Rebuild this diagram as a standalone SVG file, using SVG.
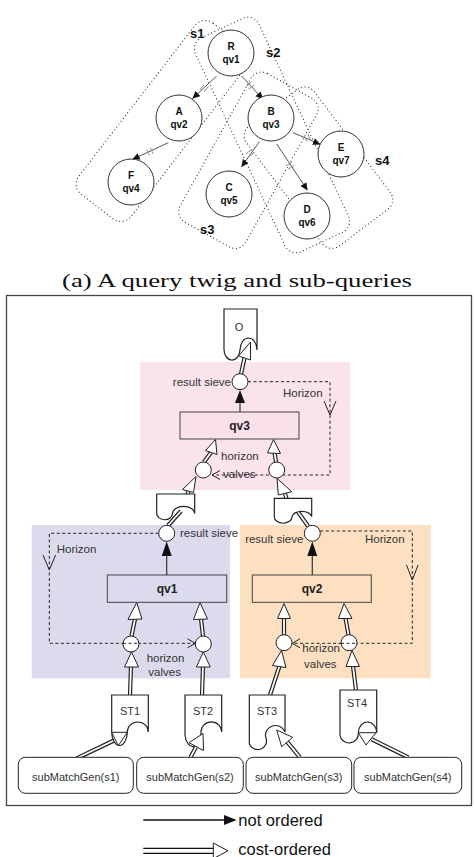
<svg xmlns="http://www.w3.org/2000/svg" width="474" height="857" viewBox="0 0 474 857">
<style>
.node{fill:#fff;stroke:#333;stroke-width:1}
.nl{font-family:"Liberation Sans",Arial,sans-serif;font-size:10px;font-weight:bold;fill:#111;text-anchor:middle}
.dot{fill:none;stroke:#222;stroke-width:1;stroke-dasharray:1 2.6}
.sl{font-family:"Liberation Sans",Arial,sans-serif;font-size:13px;font-weight:bold;fill:#111}
.edge{stroke:#555;stroke-width:1;fill:none;marker-end:url(#ah)}
.mk{stroke:#999;stroke-width:1}
.buf{fill:#fff;stroke:#222;stroke-width:1.2}
.circ{fill:#fff;stroke:#222;stroke-width:1}
.box{stroke:#444;stroke-width:1}
.dash{fill:none;stroke:#222;stroke-width:1;stroke-dasharray:3 2.5}
.chev{fill:none;stroke:#222;stroke-width:1}
.dlo{fill:none;stroke:#222;stroke-width:4.2}
.dli{fill:none;stroke:#fff;stroke-width:1.8}
.tri{fill:#fff;stroke:#222;stroke-width:1}
.ftri{fill:#111;stroke:none}
.sol{stroke:#333;stroke-width:1.2}
.t{font-family:"Liberation Sans",Arial,sans-serif;font-size:11.5px;fill:#333}
.tb{font-family:"Liberation Sans",Arial,sans-serif;font-size:12px;font-weight:bold;fill:#222;text-anchor:middle}
.tm{font-family:"Liberation Sans",Arial,sans-serif;font-size:11px;fill:#333;text-anchor:middle}
.lg{font-family:"Liberation Sans",Arial,sans-serif;font-size:16.5px;fill:#111}
.cap{font-family:"Liberation Serif","Times New Roman",serif;font-size:19px;fill:#111}
</style>
<defs>
<marker id="ah" markerWidth="8" markerHeight="8" refX="7" refY="4" orient="auto" markerUnits="userSpaceOnUse">
<path d="M0,0.5 L7.5,4 L0,7.5 Z" fill="#111"/>
</marker>
</defs>

<g id="subqueries">
<rect class="dot" x="-33" y="-108" width="66" height="216" rx="13" transform="translate(163,121) rotate(37.6)"/>
<rect class="dot" x="-35" y="-118" width="70" height="236" rx="12" transform="translate(272,135) rotate(-25)"/>
<rect class="dot" x="-37" y="-85" width="75" height="170" rx="12" transform="translate(248,160) rotate(29)"/>
<rect class="dot" x="-42" y="-75" width="85" height="150" rx="12" transform="translate(318,168) rotate(-37)"/>
<text class="sl" x="190" y="38">s1</text>
<text class="sl" x="266" y="57">s2</text>
<text class="sl" x="200" y="234">s3</text>
<text class="sl" x="375" y="165">s4</text>
</g>

<g id="twig-edges">
<line class="edge" x1="216.7" y1="76" x2="192.7" y2="98.3"/>
<line class="edge" x1="241.7" y1="76" x2="262.7" y2="99"/>
<line class="edge" x1="168.3" y1="142.7" x2="132.7" y2="159.3"/>
<line class="edge" x1="259.3" y1="141.7" x2="241.7" y2="166.7"/>
<line class="edge" x1="276.7" y1="144" x2="307.3" y2="190"/>
<line class="edge" x1="293.3" y1="132.7" x2="320" y2="144.3"/>
<path class="mk" d="M199.6,85.8 L206.4,84.8 M201.6,89.8 L208.4,88.8" transform="rotate(-40 205 87.3)"/>
<path class="mk" d="M246.6,83.7 L253.4,83.7 M246.6,87.7 L253.4,87.7" transform="rotate(-40 250 85.7)"/>
<path class="mk" d="M146.6,149.7 L153.4,149.7 M146.6,153.7 L153.4,153.7" transform="rotate(66 150 151.7)"/>
<path class="mk" d="M246.6,151.3 L253.4,151.3 M246.6,155.3 L253.4,155.3" transform="rotate(-35 250 153.3)"/>
<path class="mk" d="M286.6,163.7 L293.4,163.7 M286.6,167.7 L293.4,167.7" transform="rotate(-34 290 165.7)"/>
<path class="mk" d="M303.9,135.7 L310.7,135.7 M303.9,139.7 L310.7,139.7" transform="rotate(66 307.3 137.7)"/>
</g>

<g id="R"><circle class="node" cx="231" cy="53" r="23"/><text class="nl" x="231" y="50">R</text><text class="nl" x="231" y="63">qv1</text></g>
<g id="A"><circle class="node" cx="179" cy="118" r="23"/><text class="nl" x="179" y="115">A</text><text class="nl" x="179" y="128">qv2</text></g>
<g id="B"><circle class="node" cx="271" cy="118" r="23"/><text class="nl" x="271" y="115">B</text><text class="nl" x="271" y="128">qv3</text></g>
<g id="F"><circle class="node" cx="131" cy="182" r="23"/><text class="nl" x="131" y="179">F</text><text class="nl" x="131" y="192">qv4</text></g>
<g id="C"><circle class="node" cx="229" cy="194" r="23"/><text class="nl" x="229" y="191">C</text><text class="nl" x="229" y="204">qv5</text></g>
<g id="E"><circle class="node" cx="341" cy="154" r="23"/><text class="nl" x="341" y="151">E</text><text class="nl" x="341" y="164">qv7</text></g>
<g id="D"><circle class="node" cx="307" cy="216" r="23"/><text class="nl" x="307" y="213">D</text><text class="nl" x="307" y="226">qv6</text></g>

<text class="cap" x="62" y="287" textLength="350" lengthAdjust="spacingAndGlyphs">(a) A query twig and sub-queries</text>

<rect x="6.5" y="295.5" width="465" height="510" fill="none" stroke="#444" stroke-width="1.3"/>

<rect id="region-qv3" x="140" y="362" width="210" height="128" fill="#fae3ec"/>
<rect id="region-qv1" x="31.7" y="525" width="198.3" height="153.3" fill="#dcdbee"/>
<rect id="region-qv2" x="240" y="525" width="190.7" height="153.3" fill="#fde0c2"/>

<g id="connectors">
<path class="dash" d="M248,381.7 H330 V475 H212"/>
<path class="chev" d="M324,401 L330,415 L336,401"/>
<path class="chev" d="M220,470.5 L212,475 L220,479.5"/>
<path class="dash" d="M158.7,533.3 H49.3 V643.3 H195"/>
<path class="chev" d="M43,555 L49.3,570 L55.6,555"/>
<path class="chev" d="M187.5,638.8 L195.3,643.3 L187.5,647.8"/>
<path class="dash" d="M320.3,531 H412.3 V643.3 H292.5"/>
<path class="chev" d="M406.5,565 L412.3,580 L418.1,565"/>
<path class="chev" d="M300,638.8 L292.3,643.3 L300,647.8"/>

<line class="sol" x1="240" y1="412" x2="240" y2="402"/>
<polygon class="ftri" points="240,390 235,403 245,403"/>
<line class="sol" x1="166.7" y1="575" x2="166.7" y2="555"/>
<polygon class="ftri" points="166.7,541.5 161.7,556 171.7,556"/>
<line class="sol" x1="312.3" y1="575" x2="312.3" y2="555"/>
<polygon class="ftri" points="312.3,541.5 307.3,556 317.3,556"/>

<path class="dlo" d="M241,374 L244.5,358 M204,462 L211,452.5 M276,462 L274.6,453 M187.5,494.5 L188.5,491 M286.5,498.5 L285,493.5 M168,525.5 L181,511 M308,526 L298,512 M131.5,636 L135,619 M203,636 L201,619 M284,634.7 L284,618.3 M348.5,634.7 L345.5,618.3 M131,666 L130,695 M203,666 L202,695 M279.5,666 L270,695 M353,666 L356,690 M76.7,758.3 L114,740.5 M190.5,757.3 L196.5,746 M300,757.3 L287,741.7 M408.3,757.3 L371.7,739.3"/>
<path class="dli" d="M241,374 L244.5,358 M204,462 L211,452.5 M276,462 L274.6,453 M187.5,494.5 L188.5,491 M286.5,498.5 L285,493.5 M168,525.5 L181,511 M308,526 L298,512 M131.5,636 L135,619 M203,636 L201,619 M284,634.7 L284,618.3 M348.5,634.7 L345.5,618.3 M131,666 L130,695 M203,666 L202,695 M279.5,666 L270,695 M353,666 L356,690 M76.7,758.3 L114,740.5 M190.5,757.3 L196.5,746 M300,757.3 L287,741.7 M408.3,757.3 L371.7,739.3"/>
</g>

<g id="buf-O"><path class="buf" d="M224,309 H257 V350 A8.5,12 0 0 0 240,350 A8,11 0 0 1 224,348 Z"/><text class="tm" x="239" y="331">O</text></g>
<g id="buf-qv1"><path class="buf" d="M156.7,494 H194.7 V513.5 A11,7 0 0 0 172.5,513.5 A7.9,6.5 0 0 1 156.7,513 Z"/></g>
<g id="buf-qv2"><path class="buf" d="M274.3,498.3 H311.7 V516.7 A9.9,6 0 0 0 292,516.7 A8.8,6.5 0 0 1 274.3,516.7 Z"/></g>
<g id="ST1"><path class="buf" d="M111.7,695 H148.3 V732 A10.5,10 0 0 0 127.3,732 A7.8,13.5 0 0 1 111.7,732 Z"/><text class="tm" x="130" y="715">ST1</text></g>
<g id="ST2"><path class="buf" d="M185,695 H221.7 V732 A10.3,10 0 0 0 201,732 A8,13 0 0 1 185,735 Z"/><text class="tm" x="203" y="715">ST2</text></g>
<g id="ST3"><path class="buf" d="M249.3,695 H285 V732 A9.5,9 0 0 0 266,738 A8.4,8 0 0 1 249.3,744 Z"/><text class="tm" x="267" y="715">ST3</text></g>
<g id="ST4"><path class="buf" d="M340,690 H376.7 V733 A9.2,11 0 0 0 358.3,733 A9.2,9 0 0 1 340,735 Z"/><text class="tm" x="357" y="707">ST4</text></g>

<g id="arrowheads">
<polygon class="tri" points="250.5,342 238.5,356 250.5,360"/>
<polygon class="tri" points="215.5,439.5 205.5,450.5 217,454.5"/>
<polygon class="tri" points="273.5,439.5 267.5,453 280.5,453.5"/>
<polygon class="tri" points="196,476.5 182.5,489.5 193.5,492.5"/>
<polygon class="tri" points="277,478.3 278.3,495 291.7,491.7"/>
<polygon class="tri" points="136.7,602.5 128,619.5 142,619"/>
<polygon class="tri" points="200,602.5 193.5,619.5 207.5,619"/>
<polygon class="tri" points="131.5,652 124.5,667 138.5,667"/>
<polygon class="tri" points="203.3,652 196.3,667 210.3,667"/>
<polygon class="tri" points="284,603.5 277.5,618.5 290.5,618.5"/>
<polygon class="tri" points="344,603.5 338.5,618.5 352,618.5"/>
<polygon class="tri" points="281.5,650.5 272.5,665.5 286,667.5"/>
<polygon class="tri" points="352,650.5 346,666.5 359.5,666.5"/>
<polygon class="tri" points="111.7,732.3 127.3,732.3 118.3,745.7"/>
<polygon class="tri" points="189,742.7 203,733.5 203.5,750.5"/>
<polygon class="tri" points="276.7,730 281.7,746.7 292.7,737.3"/>
<polygon class="tri" points="358.3,732.7 376,732.7 366,745"/>
</g>

<g id="sieve-qv3"><circle class="circ" cx="240" cy="381.7" r="8"/></g>
<g id="qv3"><rect class="box" x="180" y="412" width="119" height="27" fill="#f9e0ea"/><text class="tb" x="239.5" y="430">qv3</text></g>
<g id="valve-qv3-l"><circle class="circ" cx="203.3" cy="470" r="8"/></g>
<g id="valve-qv3-r"><circle class="circ" cx="276.7" cy="470" r="8"/></g>
<text class="t" x="231" y="386" text-anchor="end">result sieve</text>
<text class="t" x="283" y="397">Horizon</text>
<text class="t" x="221" y="460">horizon</text>
<text class="t" x="223" y="478">valves</text>

<g id="sieve-qv1"><circle class="circ" cx="166.7" cy="533.3" r="8"/></g>
<g id="qv1"><rect class="box" x="107.3" y="575" width="119.4" height="27.3" fill="#dcdbee"/><text class="tb" x="167" y="593">qv1</text></g>
<g id="valve-qv1-l"><circle class="circ" cx="131" cy="644" r="8"/><path class="dash" d="M123,643.3 H139"/></g>
<g id="valve-qv1-r"><circle class="circ" cx="203.3" cy="644" r="8"/></g>
<text class="t" x="180" y="537">result sieve</text>
<text class="t" x="56.7" y="553">Horizon</text>
<text class="t" x="146.7" y="662">horizon</text>
<text class="t" x="148.3" y="676">valves</text>

<g id="sieve-qv2"><circle class="circ" cx="312.3" cy="533.3" r="8"/></g>
<g id="qv2"><rect class="box" x="252.3" y="575" width="119" height="27.3" fill="#fde0c2"/><text class="tb" x="312" y="593">qv2</text></g>
<g id="valve-qv2-l"><circle class="circ" cx="284" cy="642.7" r="8"/></g>
<g id="valve-qv2-r"><circle class="circ" cx="349" cy="642.7" r="8"/><path class="dash" d="M341,643.3 H357"/></g>
<text class="t" x="303.3" y="543" text-anchor="end">result sieve</text>
<text class="t" x="365" y="543">Horizon</text>
<text class="t" x="302.3" y="651.5">horizon</text>
<text class="t" x="304" y="668">valves</text>

<g id="gen-s1"><rect x="18.3" y="757.3" width="115" height="36" rx="7" fill="#fff" stroke="#222"/><text class="tm" x="75.8" y="781">subMatchGen(s1)</text></g>
<g id="gen-s2"><rect x="136.7" y="757.3" width="106.6" height="36" rx="7" fill="#fff" stroke="#222"/><text class="tm" x="190" y="781">subMatchGen(s2)</text></g>
<g id="gen-s3"><rect x="246" y="757.3" width="105.7" height="36" rx="7" fill="#fff" stroke="#222"/><text class="tm" x="298.8" y="781">subMatchGen(s3)</text></g>
<g id="gen-s4"><rect x="354" y="757.3" width="107.7" height="36" rx="7" fill="#fff" stroke="#222"/><text class="tm" x="407.8" y="781">subMatchGen(s4)</text></g>

<g id="legend">
<line x1="143.3" y1="820" x2="225" y2="820" stroke="#111" stroke-width="1.3"/>
<polygon class="ftri" points="224,815 236.7,820 224,825"/>
<text class="lg" x="238.3" y="826">not ordered</text>
<line x1="143.3" y1="848.3" x2="214" y2="848.3" stroke="#111" stroke-width="1.3"/>
<line x1="143.3" y1="853.3" x2="214" y2="853.3" stroke="#111" stroke-width="1.3"/>
<polygon class="tri" points="213.3,843 228,850.8 213.3,858.6" stroke-width="1.3"/>
<text class="lg" x="238.3" y="855">cost-ordered</text>
</g>
</svg>
